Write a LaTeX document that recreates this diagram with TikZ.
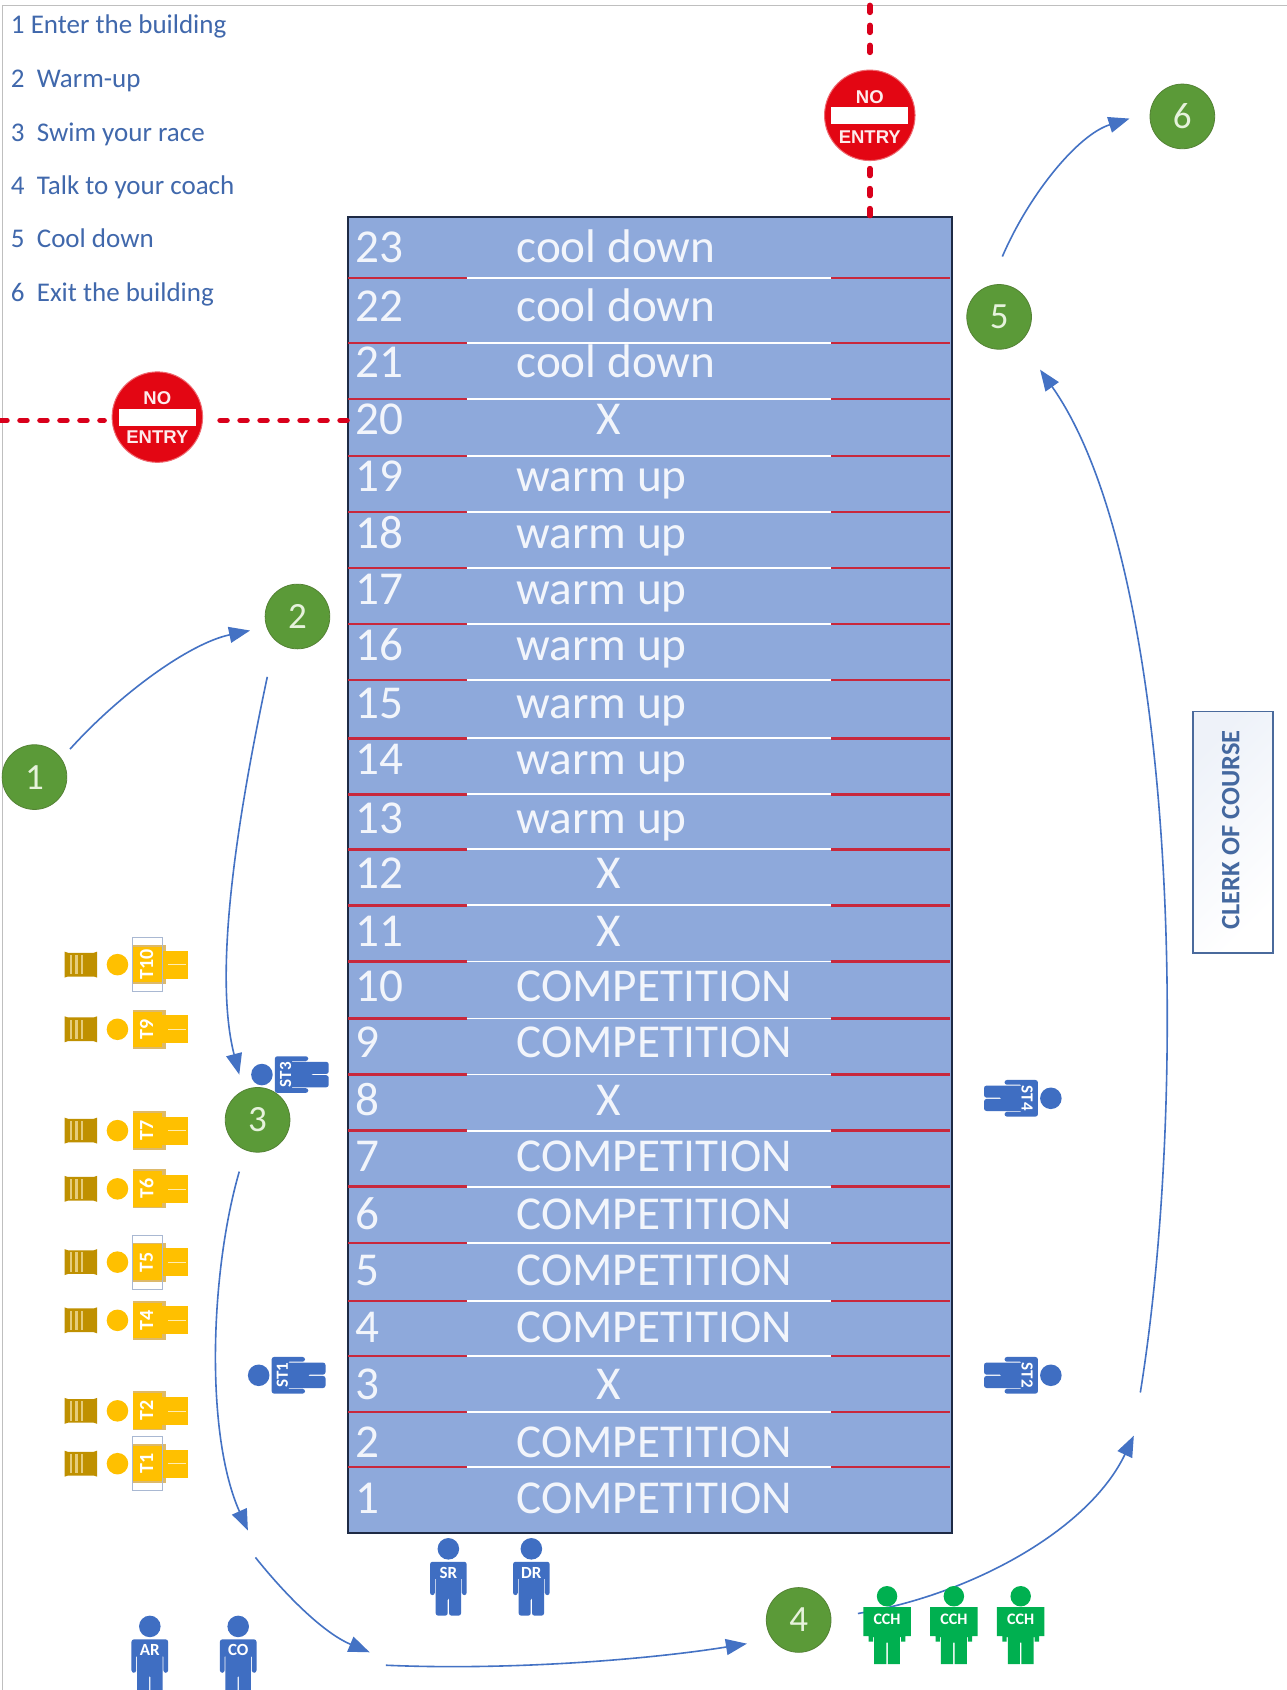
\documentclass[tikz,border=0pt]{standalone}
\usepackage{fontspec}
\setmainfont{Carlito}
\newfontfamily\signfont{Liberation Sans}
\usetikzlibrary{arrows.meta,shapes.geometric,calc}
\definecolor{poolblue}{HTML}{8EA9DB}
\definecolor{pooledge}{HTML}{1E2A44}
\definecolor{lanered}{HTML}{C8283C}
\definecolor{rowtext}{HTML}{F2F5FB}
\definecolor{legendblue}{HTML}{4068AC}
\definecolor{flowblue}{HTML}{4472C4}
\definecolor{stepgreen}{HTML}{5B9A38}
\definecolor{stepedge}{HTML}{548235}
\definecolor{steptext}{HTML}{E6F2DC}
\definecolor{signred}{HTML}{E30613}
\definecolor{dotred}{HTML}{D9001B}
\definecolor{peopleblue}{HTML}{3F6EC2}
\definecolor{peoplegold}{HTML}{FFC000}
\definecolor{goldtan}{HTML}{DDB96A}
\definecolor{chairgold}{HTML}{BF9000}
\definecolor{chairlight}{HTML}{E6CC7A}
\definecolor{coachgreen}{HTML}{00B050}
\definecolor{clerkedge}{HTML}{4A6A9C}
\definecolor{clerktext}{HTML}{44689F}
\definecolor{clerkfill}{HTML}{EEF2F9}
\definecolor{boxedge}{HTML}{A9B8D2}
\tikzset{
  x=1.0779pt,y=-1.0779pt,
  poolbox/.style={draw=pooledge,line width=2pt,fill=poolblue,rectangle,inner sep=0pt,minimum width=603.6pt,minimum height=1316.1pt,anchor=north west},
  rowlabel/.style={text=rowtext,font=\fontsize{47.2}{47}\selectfont,inner sep=0pt,anchor=base west},
  rowmark/.style={text=rowtext,font=\fontsize{47.2}{47}\selectfont,inner sep=0pt,anchor=base},
  legendline/.style={text=legendblue,font=\fontsize{27}{27}\selectfont,inner sep=0pt,anchor=base west},
  stepdot/.style={circle,draw=stepedge,line width=0.8pt,fill=stepgreen,text=steptext,minimum size=64.7pt,inner sep=0pt,font=\fontsize{37}{37}\selectfont},
  flow/.style={draw=flowblue,line width=1.6pt},
  flowtip/.style={flow,-{Triangle[length=21pt,width=16pt]}},
  nosign/.style={circle,fill=signred,draw=signred!60,line width=1pt,minimum size=90.5pt,inner sep=0pt,outer sep=8pt},
  nobar/.style={rectangle,fill=white,minimum width=77pt,minimum height=17pt,inner sep=0pt},
  notext/.style={text=white!92!signred,font=\signfont\bfseries\fontsize{18.5}{18.5}\selectfont,inner sep=0pt},
  dotline/.style={draw=dotred,line width=5.5pt,dash pattern=on 7pt off 13pt,line cap=round},
  clerkbox/.style={rectangle,draw=clerkedge,line width=1.6pt,left color=clerkfill,right color=white,shading angle=45,minimum width=80pt,minimum height=241.5pt,inner sep=0pt},
  clerklabel/.style={text=clerktext,font=\bfseries\fontsize{26.5}{26}\selectfont,rotate=90,inner sep=0pt},
  framerule/.style={draw=black!25,line width=1.2pt},
  pics/person/.style 2 args={code={
    \fill[#1] (0,0) circle[radius=10];
    \fill[#1,rounded corners=2.5pt] (-17,43) -- (-17,12) -- (17,12) -- (17,43) -- (12.6,43) -- (12.6,26) -- (11.8,26) -- (11.8,62) -- (0.6,62) -- (0.6,45) -- (-0.6,45) -- (-0.6,62) -- (-11.8,62) -- (-11.8,26) -- (-12.6,26) -- (-12.6,43) -- cycle;
    \node[transform shape,text=white,inner sep=0pt,font=\bfseries\fontsize{17}{17}\selectfont] (lab) at (0,22) {#2};
  }},
  pics/goldperson/.style={code={
    \fill[peoplegold] (0,0) circle[radius=10];
    \fill[goldtan] (-18,14) rectangle (18,45);
    \fill[peoplegold] (-16.5,14) rectangle (16.5,41);
    \fill[peoplegold] (-13,40) rectangle (13,65);
    \draw[white!70!peoplegold,line width=0.5pt] (0,47) -- (0,64);
    \node[transform shape,text=white,inner sep=0pt,font=\bfseries\fontsize{20}{20}\selectfont] (lab) at (0,27) {#1};
  }},
  pics/coach/.style={code={
    \fill[coachgreen] (0,0) circle[radius=9.5];
    \fill[coachgreen] (-22,10) -- (22,10) -- (22,37) -- (17,37) -- (17,42) -- (13,42) -- (13,38) -- (12,38) -- (12,63) -- (0.7,63) -- (0.7,43) -- (-0.7,43) -- (-0.7,63) -- (-12,63) -- (-12,38) -- (-13,38) -- (-13,42) -- (-17,42) -- (-17,37) -- (-22,37) -- cycle;
    \node[text=white,inner sep=0pt,font=\bfseries\fontsize{16}{16}\selectfont] (lab) at (0,21) {CCH};
  }},
  pics/chair/.style={code={
    \fill[chairgold] (-15,-12) -- (-12,-11) -- (12,-11) -- (15,-12) -- (15,12) -- (12,11) -- (-12,11) -- (-15,12) -- cycle;
    \foreach \sx in {-10,-5,0}{\fill[chairlight] (\sx,-9) rectangle (\sx+2,9);}
  }}
}
\begin{document}
\begin{tikzpicture}
\clip (0,0) rectangle (1194,1568);
\fill[white] (0,0) rectangle (1194,1568);
\coordinate (frameTL) at (2,5);
\coordinate (frameTR) at (1194,5);
\coordinate (frameBL) at (2,1568);
\draw[framerule] (frameBL) -- (frameTL) -- (frameTR);

% legend
\node[legendline] (leg1) at (10,31) {1 Enter the building};
\node[legendline] (leg2) at (10,81) {2\ \ Warm-up};
\node[legendline] (leg3) at (10,131) {3\ \ Swim your race};
\node[legendline] (leg4) at (10,180) {4\ \ Talk to your coach};
\node[legendline] (leg5) at (10,230) {5\ \ Cool down};
\node[legendline] (leg6) at (10,280) {6\ \ Exit the building};

% pool
\node[poolbox] (pool) at (322,200) {};
\foreach \yy in {258,318,370,423,475,527,579,631,685,737,788,840,892,945,997,1049,1101,1153,1207,1258,1310,1361}{
  \draw[lanered,line width=2.4pt] (323,\yy) -- (433,\yy);
  \draw[white,line width=1.8pt] (433,\yy) -- (771,\yy);
  \draw[lanered,line width=2.4pt] (771,\yy) -- (881,\yy);
}
\foreach \n/\yy in {23/229,22/283,21/335,20/388,19/441,18/494,17/546,16/598,15/652,14/704,13/758,12/809,11/863,10/914,9/966,8/1020,7/1072,6/1126,5/1178,4/1231,3/1283,2/1337,1/1389}{
  \node[rowlabel] (num\n) at (330,\yy+15) {\n};
}
\foreach \n/\yy/\txt in {23/229/cool down,22/283/cool down,21/335/cool down,19/441/warm up,18/494/warm up,17/546/warm up,16/598/warm up,15/652/warm up,14/704/warm up,13/758/warm up,10/914/COMPETITION,9/966/COMPETITION,7/1072/COMPETITION,6/1126/COMPETITION,5/1178/COMPETITION,4/1231/COMPETITION,2/1337/COMPETITION,1/1389/COMPETITION}{
  \node[rowlabel] (use\n) at (479,\yy+15) {\txt};
}
\foreach \n/\yy in {20/388,12/809,11/863,8/1020,3/1283}{
  \node[rowmark] (use\n) at (565,\yy+15) {X};
}

% no entry signs
\node[nosign] (ne1) at (807,107) {};
\node[nobar] (ne1bar) at (ne1) {};
\node[notext] (ne1no) at (807,90) {NO};
\node[notext] (ne1en) at (807,127) {ENTRY};
\node[nosign] (ne2) at (146,387) {};
\node[nobar] (ne2bar) at (ne2) {};
\node[notext] (ne2no) at (146,369) {NO};
\node[notext] (ne2en) at (146,406) {ENTRY};
\coordinate (topend) at (807,5);
\coordinate (leftend) at (0,390);
\path (ne2.west) ++(0,3) coordinate (ne2w);
\path (ne2.east) ++(0,3) coordinate (ne2e);
\draw[dotline] (topend) -- (ne1.north);
\draw[dotline] (ne1 |- pool.north) -- (ne1.south);
\draw[dotline] (leftend) -- (ne2w);
\draw[dotline] (ne2e -| pool.west) -- (ne2e);

% clerk
\node[clerkbox] (clerk) at (1144,772) {};
\node[clerklabel] (clerktxt) at (1142,770) {CLERK OF COURSE};

% steps
\node[stepdot] (s1) at (32,721) {1};
\node[stepdot] (s2) at (276,572) {2};
\node[stepdot] (s3) at (239,1039) {3};
\node[stepdot] (s4) at (741,1503) {4};
\node[stepdot] (s5) at (927,294) {5};
\node[stepdot] (s6) at (1097,108) {6};

% connector ends
\path (s1) ++(33,-26) coordinate (a1);
\path (s2) ++(-44,13) coordinate (b2);
\path (s2) ++(-28,56) coordinate (a2);
\path (s3) ++(-17,-42) coordinate (b3);
\path (s3) ++(-17,48) coordinate (a3);
\coordinate (w1) at (230,1420);
\coordinate (w2) at (237,1445);
\coordinate (w3) at (343,1533);
\coordinate (w4) at (358,1545);
\path (s4) ++(-48,22) coordinate (b4);
\path (s4) ++(55,-6) coordinate (a4);
\coordinate (w5) at (1052,1332);
\coordinate (w6) at (1058,1292);
\path (s5) ++(38,49) coordinate (b5);
\path (s5) ++(3,-56) coordinate (a5);
\path (s6) ++(-49,2) coordinate (b6);

\draw[flowtip] (a1) .. controls (110,645) and (175,597) .. (b2);
\draw[flowtip] (a2) .. controls (222,750) and (197,900) .. (b3);
\draw[flowtip] (a3) .. controls (195,1180) and (190,1330) .. (w1);
\draw[flowtip] (w2) .. controls (265,1480) and (300,1515) .. (w3);
\draw[flowtip] (w4) .. controls (470,1550) and (600,1540) .. (b4);
\draw[flowtip] (a4) .. controls (900,1480) and (1010,1420) .. (w5);
\draw[flowtip] (w6) .. controls (1105,1000) and (1090,520) .. (b5);
\draw[flowtip] (a5) .. controls (955,180) and (1000,125) .. (b6);

% officials
\foreach \lab/\yy in {T10/895,T9/955,T7/1049,T6/1103,T5/1171,T4/1225,T2/1309,T1/1358}{
  \pic[rotate=90] (off\lab) at (109,\yy) {goldperson={\lab}};
  \pic (ch\lab) at (75,\yy) {chair};
}
\foreach \yy in {895,1171,1358}{
  \draw[boxedge,line width=0.8pt] (123,\yy-25) rectangle (151,\yy+25);
}
\pic[rotate=90] (st3) at (243,997) {person={peopleblue}{ST3}};
\pic[rotate=90] (st1) at (240,1276) {person={peopleblue}{ST1}};
\pic[rotate=-90] (st4) at (975,1019) {person={peopleblue}{ST4}};
\pic[rotate=-90] (st2) at (975,1276) {person={peopleblue}{ST2}};
\pic (sr) at (416,1437) {person={peopleblue}{SR}};
\pic (dr) at (493,1437) {person={peopleblue}{DR}};
\pic (ar) at (139,1509) {person={peopleblue}{AR}};
\pic (co) at (221,1509) {person={peopleblue}{CO}};
\pic (cch1) at (823,1481) {coach};
\pic (cch2) at (885,1481) {coach};
\pic (cch3) at (947,1481) {coach};
\end{tikzpicture}
\end{document}
